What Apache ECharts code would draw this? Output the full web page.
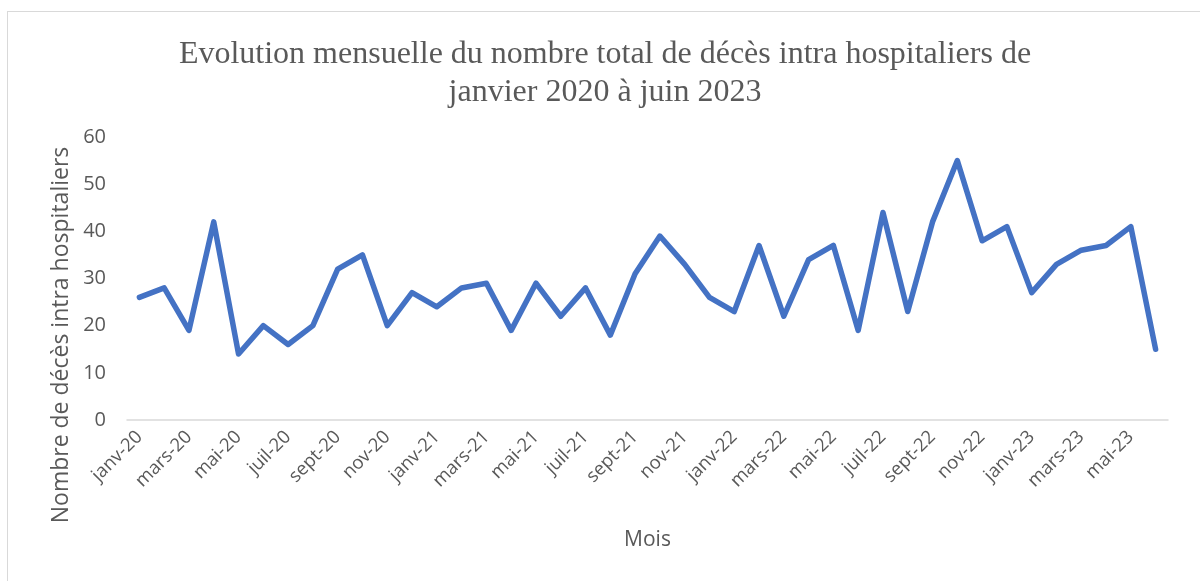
<!DOCTYPE html>
<html>
<head>
<meta charset="utf-8">
<script src="https://cdn.jsdelivr.net/npm/echarts@6/dist/echarts.min.js"></script>
<style>
  html, body { margin: 0; padding: 0; background: #fff; }
  #frame { position: absolute; left: 7px; top: 11px; width: 1200px; height: 580px; border: 1px solid #d9d9d9; box-sizing: border-box; }
  #chart { position: absolute; left: 0; top: 0; width: 1200px; height: 581px; }
</style>
</head>
<body>
<div id="frame"></div>
<div id="chart"></div>
<script>
const months = [
  'janv-20', 'févr-20', 'mars-20', 'avr-20', 'mai-20', 'juin-20', 'juil-20', 'août-20', 'sept-20', 'oct-20', 'nov-20', 'déc-20',
  'janv-21', 'févr-21', 'mars-21', 'avr-21', 'mai-21', 'juin-21', 'juil-21', 'août-21', 'sept-21', 'oct-21', 'nov-21', 'déc-21',
  'janv-22', 'févr-22', 'mars-22', 'avr-22', 'mai-22', 'juin-22', 'juil-22', 'août-22', 'sept-22', 'oct-22', 'nov-22', 'déc-22',
  'janv-23', 'févr-23', 'mars-23', 'avr-23', 'mai-23', 'juin-23'
]
const deces = [
  26, 28, 19, 42, 14, 20, 16, 20, 32, 35, 20, 27,
  24, 28, 29, 19, 29, 22, 28, 18, 31, 39, 33, 26,
  23, 37, 22, 34, 37, 19, 44, 23, 42, 55, 38, 41,
  27, 33, 36, 37, 41, 15
]
const yTicks = [0, 60, 10] // min, max, interval

const chart = echarts.init(document.getElementById('chart'))
const option = {
  animation: false,
  title: {
    text: 'Evolution mensuelle du nombre total de décès intra hospitaliers de\njanvier 2020 à juin 2023',
    left: 600,
    top: 31,
    textAlign: 'center',
    textStyle: {
      fontFamily: 'Liberation Serif',
      fontWeight: 'normal',
      fontSize: 32,
      lineHeight: 38,
      color: '#595959'
    }
  },
  // titre de l'axe Y, décalé vers le bas comme sur l'original
  graphic: [
    {
      type: 'text',
      x: 61,
      y: 335,
      rotation: Math.PI / 2,
      style: {
        text: 'Nombre de décès intra hospitaliers',
        fontFamily: 'Open Sans',
        fontSize: 23,
        fill: '#595959',
        align: 'center',
        verticalAlign: 'middle'
      }
    }
  ],
  grid: {
    left: 127,
    right: 32,
    top: 137,
    bottom: 161
  },
  xAxis: {
    type: 'category',
    data: months,
    boundaryGap: true,
    name: 'Mois',
    nameLocation: 'middle',
    nameGap: 110,
    nameTextStyle: { fontFamily: 'Open Sans', fontSize: 21, color: '#595959' },
    axisLine: { lineStyle: { color: '#d9d9d9', width: 1.5 } },
    axisTick: { interval: 1, length: 7, lineStyle: { color: '#d9d9d9', width: 1.5 } },
    axisLabel: {
      interval: 1,
      rotate: 45,
      margin: 14,
      fontFamily: 'Open Sans',
      fontSize: 18.5,
      color: '#595959'
    }
  },
  yAxis: {
    type: 'value',
    min: yTicks[0],
    max: yTicks[1],
    interval: yTicks[2],
    axisLine: { show: false },
    axisTick: { show: false },
    splitLine: { show: false },
    axisLabel: {
      margin: 21,
      fontFamily: 'Open Sans',
      fontSize: 20,
      color: '#595959'
    }
  },
  series: [
    {
      type: 'line',
      name: 'Décès',
      data: deces,
      symbol: 'none',
      lineStyle: { color: '#4472c4', width: 5.5, cap: 'round', join: 'round' },
      itemStyle: { color: '#4472c4' }
    }
  ]
}
chart.setOption(option)
</script>
</body>
</html>
